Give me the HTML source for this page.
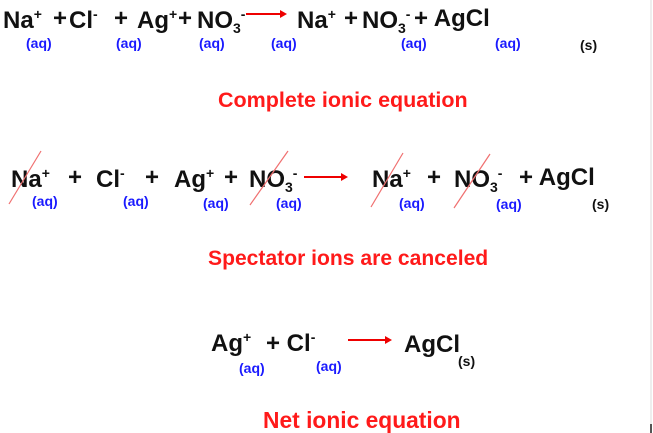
<!DOCTYPE html>
<html><head><style>
body{margin:0;width:653px;height:433px;background:#fff;position:relative;overflow:hidden;font-family:"Liberation Sans",sans-serif;font-weight:bold}
.t{position:absolute;font-size:24px;color:#111;line-height:1;white-space:nowrap}
.t sup{font-size:14px;vertical-align:9px}
.t sub{font-size:14px;vertical-align:-5px}
.aq{position:absolute;font-size:14px;color:#1a1aff;line-height:1}
.s{position:absolute;font-size:14px;color:#111;line-height:1}
.h{position:absolute;color:#ff1a1a;line-height:1;white-space:nowrap}
.ar{position:absolute;height:2px;background:#e00}
.ar:after{content:"";position:absolute;right:-6px;top:-3px;border-left:7px solid #e00;border-top:4px solid transparent;border-bottom:4px solid transparent}
</style></head><body>
<!-- row 1 -->
<div class="t" style="left:3px;top:7px">Na<sup>+</sup></div>
<div class="t" style="left:53px;top:7px">+</div>
<div class="t" style="left:69px;top:7px">Cl<sup>-</sup></div>
<div class="t" style="left:114px;top:7px">+</div>
<div class="t" style="left:137px;top:7px">Ag<sup>+</sup></div>
<div class="t" style="left:178px;top:7px">+</div>
<div class="t" style="left:197px;top:7px">NO<sub>3</sub><sup>-</sup></div>
<div class="ar" style="left:246px;top:13px;width:35px"></div>
<div class="t" style="left:297px;top:7px">Na<sup>+</sup></div>
<div class="t" style="left:344px;top:7px">+</div>
<div class="t" style="left:362px;top:7px">NO<sub>3</sub><sup>-</sup></div>
<div class="t" style="left:414px;top:7px">+ AgCl</div>
<div class="aq" style="left:26px;top:36px">(aq)</div>
<div class="aq" style="left:116px;top:36px">(aq)</div>
<div class="aq" style="left:199px;top:36px">(aq)</div>
<div class="aq" style="left:271px;top:36px">(aq)</div>
<div class="aq" style="left:401px;top:36px">(aq)</div>
<div class="aq" style="left:495px;top:36px">(aq)</div>
<div class="s" style="left:580px;top:38px">(s)</div>
<div class="h" style="left:218px;top:90px;font-size:21.5px">Complete ionic equation</div>
<!-- row 2 -->
<div class="t" style="left:11px;top:166px">Na<sup>+</sup></div>
<div class="t" style="left:68px;top:166px">+</div>
<div class="t" style="left:96px;top:166px">Cl<sup>-</sup></div>
<div class="t" style="left:145px;top:166px">+</div>
<div class="t" style="left:174px;top:166px">Ag<sup>+</sup></div>
<div class="t" style="left:224px;top:166px">+</div>
<div class="t" style="left:249px;top:166px">NO<sub>3</sub><sup>-</sup></div>
<div class="ar" style="left:304px;top:176px;width:38px"></div>
<div class="t" style="left:372px;top:166px">Na<sup>+</sup></div>
<div class="t" style="left:427px;top:166px">+</div>
<div class="t" style="left:454px;top:166px">NO<sub>3</sub><sup>-</sup></div>
<div class="t" style="left:519px;top:166px">+ AgCl</div>
<div class="aq" style="left:32px;top:194px">(aq)</div>
<div class="aq" style="left:123px;top:194px">(aq)</div>
<div class="aq" style="left:203px;top:196px">(aq)</div>
<div class="aq" style="left:276px;top:196px">(aq)</div>
<div class="aq" style="left:399px;top:196px">(aq)</div>
<div class="aq" style="left:496px;top:197px">(aq)</div>
<div class="s" style="left:592px;top:197px">(s)</div>
<svg style="position:absolute;left:0;top:0" width="653" height="433">
<g stroke="#f07070" stroke-width="1.2">
<line x1="9" y1="204" x2="41" y2="151"/>
<line x1="250" y1="205" x2="288" y2="151"/>
<line x1="371" y1="207" x2="403" y2="153"/>
<line x1="454" y1="208" x2="490" y2="154"/>
</g>
<line x1="651" y1="0" x2="651" y2="433" stroke="#ddd" stroke-width="1"/>
<line x1="651" y1="424" x2="651" y2="433" stroke="#555" stroke-width="2"/>
</svg>
<div class="h" style="left:208px;top:248px;font-size:21.1px">Spectator ions are canceled</div>
<!-- row 3 -->
<div class="t" style="left:211px;top:330px">Ag<sup>+</sup></div>
<div class="t" style="left:266px;top:330px">+ Cl<sup>-</sup></div>
<div class="ar" style="left:348px;top:339px;width:38px"></div>
<div class="t" style="left:404px;top:333px">AgCl</div>
<div class="aq" style="left:239px;top:361px">(aq)</div>
<div class="aq" style="left:316px;top:359px">(aq)</div>
<div class="s" style="left:458px;top:354px">(s)</div>
<div class="h" style="left:263px;top:409px;font-size:22.8px">Net ionic equation</div>
</body></html>
